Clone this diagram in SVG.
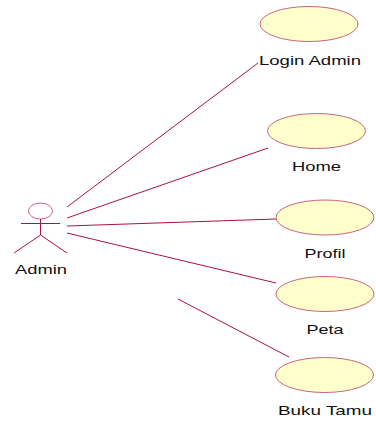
<svg xmlns="http://www.w3.org/2000/svg" width="376" height="421" viewBox="0 0 376 421">
<style>
.uc{fill:#ffffcc;stroke:#c9657f;stroke-width:1}
.ln{stroke:#aa1144;stroke-width:1;fill:none}
text{font-family:"Liberation Sans",Arial,sans-serif;font-size:13px;fill:#111;text-anchor:middle}
</style>
<rect width="376" height="421" fill="#fff"/>
<g id="connectors">
<line class="ln" x1="67" y1="207" x2="258" y2="63"/>
<line class="ln" x1="67" y1="218" x2="268" y2="148"/>
<line class="ln" x1="67" y1="226" x2="276" y2="219"/>
<line class="ln" x1="67" y1="233" x2="276" y2="283"/>
<line class="ln" x1="178" y1="299" x2="289" y2="357"/>
</g>
<g id="admin">
<ellipse cx="40.500" cy="211" rx="12" ry="8" fill="#fff" stroke="#c9657f"/>
<path class="ln" d="M21 223.500H60M40.500 219V235M40.500 235L14 253M40.500 235L67 253"/>
<text x="41" y="274" textLength="52" lengthAdjust="spacingAndGlyphs">Admin</text>
</g>
<g id="login-admin">
<ellipse class="uc" cx="309" cy="24" rx="49" ry="17.500"/>
<text x="310" y="65" textLength="102" lengthAdjust="spacingAndGlyphs">Login Admin</text>
</g>
<g id="home">
<ellipse class="uc" cx="316.500" cy="131" rx="49" ry="17.500"/>
<text x="316.500" y="171" textLength="49" lengthAdjust="spacingAndGlyphs">Home</text>
</g>
<g id="profil">
<ellipse class="uc" cx="325" cy="217.500" rx="49" ry="17.500"/>
<text x="325" y="258" textLength="41" lengthAdjust="spacingAndGlyphs">Profil</text>
</g>
<g id="peta">
<ellipse class="uc" cx="325" cy="294" rx="49" ry="17.500"/>
<text x="325" y="334" textLength="37" lengthAdjust="spacingAndGlyphs">Peta</text>
</g>
<g id="buku-tamu">
<ellipse class="uc" cx="324.500" cy="375" rx="49" ry="17.500"/>
<text x="325" y="415" textLength="94" lengthAdjust="spacingAndGlyphs">Buku Tamu</text>
</g>
</svg>
